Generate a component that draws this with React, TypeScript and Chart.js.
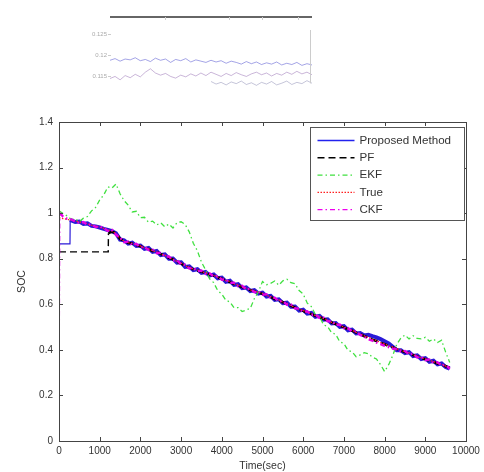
import React, { useEffect, useRef } from "react";
import { Chart, registerables } from "chart.js";
Chart.register(...registerables);

const FONT = "'Liberation Sans', Arial, Helvetica, sans-serif";

// ---------- main chart data ----------
const X_TICKS = [0, 1000, 2000, 3000, 4000, 5000, 6000, 7000, 8000, 9000, 10000];
const Y_TICKS = [0, 0.2, 0.4, 0.6, 0.8, 1.0, 1.2, 1.4];
const LEGEND_LABELS = ["Proposed Method", "PF", "EKF", "True", "CKF"];
const X_TITLE = "Time(sec)";
const Y_TITLE = "SOC";

const HEAD_T = [0, 100, 200];
const TIME = [
  300, 400, 500, 600, 700, 800, 900, 1000, 1100, 1200,
  1300, 1400, 1500, 1600, 1700, 1800, 1900, 2000, 2100, 2200,
  2300, 2400, 2500, 2600, 2700, 2800, 2900, 3000, 3100, 3200,
  3300, 3400, 3500, 3600, 3700, 3800, 3900, 4000, 4100, 4200,
  4300, 4400, 4500, 4600, 4700, 4800, 4900, 5000, 5100, 5200,
  5300, 5400, 5500, 5600, 5700, 5800, 5900, 6000, 6100, 6200,
  6300, 6400, 6500, 6600, 6700, 6800, 6900, 7000, 7100, 7200,
  7300, 7400, 7500, 7600, 7700, 7800, 7900, 8000, 8100, 8200,
  8300, 8400, 8500, 8600, 8700, 8800, 8900, 9000, 9100, 9200,
  9300, 9400, 9500, 9600,
];

const TRUE_HEAD_V = [0.98, 0.976, 0.973];
const TRUE_V = [
  0.969, 0.966, 0.961, 0.958, 0.953, 0.947, 0.944, 0.938, 0.933, 0.926,
  0.923, 0.909, 0.889, 0.877, 0.871, 0.867, 0.861, 0.856, 0.848, 0.844,
  0.835, 0.83, 0.821, 0.816, 0.805, 0.798, 0.788, 0.781, 0.769, 0.763,
  0.755, 0.751, 0.743, 0.739, 0.731, 0.728, 0.719, 0.714, 0.704, 0.7,
  0.69, 0.685, 0.676, 0.671, 0.663, 0.659, 0.652, 0.648, 0.639, 0.634,
  0.624, 0.619, 0.61, 0.604, 0.594, 0.587, 0.577, 0.573, 0.564, 0.559,
  0.55, 0.546, 0.537, 0.531, 0.521, 0.515, 0.506, 0.501, 0.491, 0.486,
  0.477, 0.471, 0.461, 0.456, 0.446, 0.441, 0.432, 0.427, 0.418, 0.413,
  0.404, 0.399, 0.391, 0.387, 0.378, 0.373, 0.365, 0.361, 0.353, 0.349,
  0.341, 0.337, 0.329, 0.323,
];

const PROPOSED_HEAD_T = [0, 270, 275];
const PROPOSED_HEAD_V = [0.865, 0.865, 0.97];
const PROPOSED_V = [
  0.968, 0.961, 0.963, 0.953, 0.955, 0.944, 0.942, 0.937, 0.931, 0.926,
  0.921, 0.912, 0.884, 0.881, 0.866, 0.87, 0.856, 0.858, 0.843, 0.847,
  0.83, 0.834, 0.816, 0.819, 0.8, 0.801, 0.783, 0.784, 0.764, 0.766,
  0.75, 0.754, 0.738, 0.742, 0.726, 0.731, 0.714, 0.717, 0.699, 0.703,
  0.685, 0.688, 0.671, 0.674, 0.658, 0.662, 0.647, 0.651, 0.634, 0.637,
  0.619, 0.622, 0.605, 0.607, 0.589, 0.59, 0.572, 0.576, 0.559, 0.562,
  0.545, 0.549, 0.532, 0.534, 0.516, 0.518, 0.501, 0.504, 0.486, 0.489,
  0.472, 0.474, 0.463, 0.466, 0.46, 0.455, 0.447, 0.438, 0.428, 0.414,
  0.398, 0.398, 0.386, 0.39, 0.373, 0.376, 0.36, 0.364, 0.348, 0.352,
  0.336, 0.34, 0.325, 0.318,
];

const CKF_HEAD_T = [0, 20, 100, 200];
const CKF_HEAD_V = [0, 1.0, 0.985, 0.975];
const CKF_V = [
  0.973, 0.963, 0.957, 0.961, 0.949, 0.95, 0.939, 0.942, 0.934, 0.922,
  0.927, 0.905, 0.893, 0.872, 0.875, 0.86, 0.865, 0.85, 0.852, 0.838,
  0.84, 0.824, 0.826, 0.81, 0.81, 0.792, 0.793, 0.775, 0.774, 0.757,
  0.76, 0.745, 0.748, 0.733, 0.736, 0.722, 0.724, 0.708, 0.709, 0.694,
  0.695, 0.679, 0.681, 0.665, 0.668, 0.653, 0.657, 0.642, 0.644, 0.628,
  0.629, 0.613, 0.615, 0.598, 0.599, 0.581, 0.582, 0.567, 0.569, 0.553,
  0.555, 0.54, 0.542, 0.525, 0.526, 0.509, 0.511, 0.495, 0.496, 0.48,
  0.482, 0.465, 0.458, 0.447, 0.44, 0.432, 0.425, 0.418, 0.412, 0.406,
  0.402, 0.393, 0.395, 0.381, 0.383, 0.367, 0.37, 0.355, 0.358, 0.343,
  0.346, 0.331, 0.334, 0.317,
];

const PF_HEAD_T = [0, 1210, 1215];
const PF_HEAD_V = [0.83, 0.83, 0.912];
const PF_V = [
  0.918, 0.913, 0.887, 0.879, 0.87, 0.866, 0.859, 0.855, 0.847, 0.842,
  0.834, 0.829, 0.82, 0.814, 0.804, 0.797, 0.787, 0.779, 0.768, 0.761,
  0.754, 0.749, 0.742, 0.737, 0.73, 0.726, 0.718, 0.712, 0.703, 0.698,
  0.689, 0.683, 0.675, 0.669, 0.662, 0.657, 0.651, 0.646, 0.638, 0.632,
  0.623, 0.617, 0.609, 0.602, 0.593, 0.585, 0.576, 0.571, 0.563, 0.557,
  0.549, 0.544, 0.536, 0.529, 0.52, 0.513, 0.505, 0.499, 0.49, 0.484,
  0.476, 0.469, 0.46, 0.454, 0.445, 0.439, 0.431, 0.425, 0.417, 0.411,
  0.403, 0.397, 0.39, 0.385, 0.377, 0.371, 0.364, 0.359, 0.352, 0.347,
  0.34, 0.335, 0.328, 0.321,
];

const EKF_V = [
  1.01, 0.998, 0.988,
  0.972, 0.975, 0.962, 0.978, 0.985, 1.01, 1.025, 1.058, 1.08, 1.115,
  1.11, 1.128, 1.085, 1.055, 1.035, 1.005, 1.008, 0.98, 0.982, 0.96,
  0.965, 0.948, 0.958, 0.94, 0.952, 0.935, 0.958, 0.962, 0.95, 0.918,
  0.868, 0.835, 0.785, 0.752, 0.712, 0.695, 0.66, 0.645, 0.618, 0.61,
  0.585, 0.585, 0.568, 0.575, 0.582, 0.625, 0.655, 0.7, 0.686, 0.692,
  0.702, 0.684, 0.703, 0.71, 0.695, 0.69, 0.66, 0.645, 0.605, 0.59,
  0.555, 0.548, 0.51, 0.502, 0.475, 0.468, 0.435, 0.428, 0.398, 0.392,
  0.37, 0.378, 0.388, 0.383, 0.368, 0.36, 0.335, 0.305, 0.335, 0.375,
  0.425, 0.452, 0.465, 0.448, 0.462, 0.45, 0.448, 0.455, 0.438, 0.448,
  0.432, 0.442, 0.39, 0.345,
];

// ---------- inset fragment data ----------
const INSET_TICKS = [0.115, 0.12, 0.125];
const INSET_X = [
  0, 2.5, 5, 7.5, 10, 12.5, 15, 17.5, 20, 22.5,
  25, 27.5, 30, 32.5, 35, 37.5, 40, 42.5, 45, 47.5,
  50, 52.5, 55, 57.5, 60, 62.5, 65, 67.5, 70, 72.5,
  75, 77.5, 80, 82.5, 85, 87.5, 90, 92.5, 95, 97.5, 100,
];
const INSET_A = [
  0.1188, 0.1192, 0.1186, 0.1191, 0.1189, 0.1194, 0.1187, 0.119, 0.1185, 0.1193,
  0.1188, 0.1191, 0.1183, 0.119, 0.1187, 0.1192, 0.1184, 0.1189, 0.1186, 0.1183,
  0.1188, 0.1184, 0.1187, 0.1181, 0.1186, 0.1183, 0.1179, 0.1185, 0.118, 0.1184,
  0.1178, 0.1182, 0.1179, 0.1184, 0.1177, 0.1181, 0.1178, 0.1183, 0.1176, 0.118, 0.1177,
];
const INSET_B = [
  0.1145, 0.115, 0.1142, 0.1152, 0.1147, 0.1155, 0.1149, 0.116, 0.1168, 0.1158,
  0.1153, 0.1157, 0.115, 0.1146, 0.1153, 0.1149, 0.1156, 0.1151, 0.1158, 0.1152,
  0.116, 0.1155, 0.115, 0.1157, 0.1152, 0.1159, 0.1154, 0.115, 0.1156, 0.116,
  0.1154, 0.1158, 0.1151, 0.1157, 0.1153, 0.116, 0.1155, 0.1162, 0.1156, 0.116, 0.1154,
];
const INSET_C = [
  0.1138, 0.1132, 0.1136, 0.113, 0.1137, 0.1133, 0.1139, 0.1131, 0.1135, 0.1129,
  0.1136, 0.1132, 0.1138, 0.113, 0.1134, 0.1139, 0.1131, 0.1136, 0.1133, 0.114, 0.1134,
];

const pts = (ts: number[], vs: number[]) => vs.map((v, i) => ({ x: ts[i], y: v }));

type Style = { color: string; width: number; dash: number[] };
const STYLES: Style[] = [
  { color: "#2a1ad8", width: 4, dash: [] },
  { color: "#000000", width: 2.5, dash: [7, 4] },
  { color: "#3fe03f", width: 1.3, dash: [5, 3, 1.5, 3] },
  { color: "#ff2020", width: 1.3, dash: [1.5, 1.5] },
  { color: "#e600e6", width: 2.4, dash: [5, 3, 1.5, 3] },
];
const LEGEND_WIDTHS = [1.3, 1.5, 1.2, 1.2, 1.3];
const LEGEND_COLORS = ["#2222ee", "#000000", "#3fe03f", "#ff2020", "#ee00ee"];

const mainDecor = {
  id: "mainDecor",
  afterDraw(chart: any) {
    const { ctx, chartArea: a, scales } = chart;
    const xs = scales.x;
    const ys = scales.y;
    ctx.save();
    ctx.strokeStyle = "#444";
    ctx.lineWidth = 1;
    ctx.strokeRect(Math.round(a.left) + 0.5, Math.round(a.top) + 0.5, Math.round(a.right - a.left), Math.round(a.bottom - a.top));
    ctx.beginPath();
    for (const v of X_TICKS) {
      const px = Math.round(xs.getPixelForValue(v)) + 0.5;
      ctx.moveTo(px, a.bottom);
      ctx.lineTo(px, a.bottom - 4);
      ctx.moveTo(px, a.top);
      ctx.lineTo(px, a.top + 4);
    }
    for (const v of Y_TICKS) {
      const py = Math.round(ys.getPixelForValue(v)) + 0.5;
      ctx.moveTo(a.left, py);
      ctx.lineTo(a.left + 4, py);
      ctx.moveTo(a.right, py);
      ctx.lineTo(a.right - 4, py);
    }
    ctx.stroke();

    // legend
    const bx = Math.round(a.right) - 155.5;
    const by = Math.round(a.top) + 5.5;
    const bw = 154;
    const bh = 93;
    ctx.fillStyle = "#ffffff";
    ctx.fillRect(bx, by, bw, bh);
    ctx.strokeStyle = "#555";
    ctx.lineWidth = 1;
    ctx.strokeRect(bx, by, bw, bh);
    ctx.font = `11.6px ${FONT}`;
    ctx.textBaseline = "middle";
    ctx.textAlign = "left";
    LEGEND_LABELS.forEach((lab, i) => {
      const st = STYLES[i];
      const y = by + 13 + i * 17.3;
      ctx.beginPath();
      ctx.strokeStyle = LEGEND_COLORS[i];
      ctx.lineWidth = LEGEND_WIDTHS[i];
      ctx.setLineDash(st.dash);
      ctx.moveTo(bx + 7, y);
      ctx.lineTo(bx + 44, y);
      ctx.stroke();
      ctx.setLineDash([]);
      ctx.fillStyle = "#333";
      ctx.fillText(lab, bx + 49, y);
    });

    // axis titles
    ctx.fillStyle = "#333";
    ctx.font = `10.5px ${FONT}`;
    ctx.textAlign = "center";
    ctx.textBaseline = "middle";
    ctx.fillText(X_TITLE, (a.left + a.right) / 2, a.bottom + 25);
    ctx.save();
    ctx.translate(22, (a.top + a.bottom) / 2);
    ctx.rotate(-Math.PI / 2);
    ctx.fillText(Y_TITLE, 0, 0);
    ctx.restore();
    ctx.restore();
  },
};

const insetDecor = {
  id: "insetDecor",
  afterDraw(chart: any) {
    const { ctx, chartArea: a, scales } = chart;
    ctx.save();
    ctx.strokeStyle = "#666";
    ctx.lineWidth = 2;
    ctx.beginPath();
    ctx.moveTo(a.left, a.top);
    ctx.lineTo(a.right, a.top);
    ctx.stroke();
    ctx.strokeStyle = "#ccc";
    ctx.lineWidth = 1;
    ctx.beginPath();
    for (const xv of [27, 59, 75, 93]) {
      const px = Math.round(scales.x.getPixelForValue(xv)) + 0.5;
      ctx.moveTo(px, a.top);
      ctx.lineTo(px, a.top + 3);
    }
    const rx = Math.round(a.right) - 1.5;
    ctx.moveTo(rx, a.top + 13);
    ctx.lineTo(rx, a.bottom - 10);
    for (const v of INSET_TICKS) {
      const py = Math.round(scales.y.getPixelForValue(v)) + 0.5;
      ctx.moveTo(a.left - 2, py);
      ctx.lineTo(a.left + 1, py);
    }
    ctx.stroke();
    ctx.restore();
  },
};

export default function App() {
  const mainRef = useRef<HTMLCanvasElement | null>(null);
  const insetRef = useRef<HTMLCanvasElement | null>(null);

  useEffect(() => {
    const line = (label: string, data: any[], st: Style) => ({
      label,
      data,
      borderColor: st.color,
      backgroundColor: st.color,
      borderWidth: st.width,
      borderDash: st.dash,
      pointRadius: 0,
      tension: 0,
      fill: false,
    });
    // first dataset is drawn on top in Chart.js, so list in reverse of plot order
    const datasets: any[] = [
      line(LEGEND_LABELS[4], pts([...CKF_HEAD_T, ...TIME], [...CKF_HEAD_V, ...CKF_V]), STYLES[4]),
      line(LEGEND_LABELS[3], pts([...HEAD_T, ...TIME], [...TRUE_HEAD_V, ...TRUE_V]), STYLES[3]),
      line(LEGEND_LABELS[2], pts([...HEAD_T, ...TIME], EKF_V), STYLES[2]),
      line(LEGEND_LABELS[1], pts([...PF_HEAD_T, ...TIME.slice(10)], [...PF_HEAD_V, ...PF_V]), STYLES[1]),
      line(LEGEND_LABELS[0], pts([...PROPOSED_HEAD_T, ...TIME], [...PROPOSED_HEAD_V, ...PROPOSED_V]), STYLES[0]),
    ];
    // thinner initial segments (start-up transients)
    datasets[4].segment = { borderWidth: (c: any) => (c.p0DataIndex < 2 ? 1.2 : 4) };
    datasets[3].segment = { borderWidth: (c: any) => (c.p0DataIndex < 2 ? 1.4 : 2.5) };
    datasets[0].segment = { borderWidth: (c: any) => (c.p0DataIndex < 1 ? 1.2 : 2.4) };

    const main = new Chart(mainRef.current as HTMLCanvasElement, {
      type: "line",
      data: { datasets },
      options: {
        responsive: false,
        animation: false,
        events: [],
        layout: { padding: { top: 22, right: 18, left: 0, bottom: 0 } },
        plugins: { legend: { display: false }, tooltip: { enabled: false } },
        scales: {
          x: {
            type: "linear",
            min: 0,
            max: 10000,
            grid: { display: false, drawTicks: false },
            border: { display: false },
            afterBuildTicks: (s: any) => { s.ticks = X_TICKS.map((v) => ({ value: v })); },
            afterFit: (s: any) => { s.height = 31; },
            ticks: {
              autoSkip: false,
              maxRotation: 0,
              padding: 4,
              color: "#333",
              font: { family: FONT, size: 10 },
              callback: (v: any) => String(v),
            },
          },
          y: {
            type: "linear",
            min: 0,
            max: 1.4,
            grid: { display: false, drawTicks: false },
            border: { display: false },
            afterBuildTicks: (s: any) => { s.ticks = Y_TICKS.map((v) => ({ value: v })); },
            afterFit: (s: any) => { s.width = 59; },
            ticks: {
              autoSkip: false,
              padding: 6,
              color: "#333",
              font: { family: FONT, size: 10 },
              callback: (v: any) => String(Math.round(Number(v) * 10) / 10),
            },
          },
        },
      },
      plugins: [mainDecor],
    } as any);

    const inset = new Chart(insetRef.current as HTMLCanvasElement, {
      type: "line",
      data: {
        datasets: [
          {
            data: pts(INSET_X, INSET_A),
            borderColor: "rgba(90,90,210,0.55)",
            borderWidth: 1,
            pointRadius: 0,
            tension: 0,
          },
          {
            data: pts(INSET_X, INSET_B),
            borderColor: "rgba(150,110,180,0.5)",
            borderWidth: 1,
            pointRadius: 0,
            tension: 0,
          },
          {
            data: pts(INSET_X.slice(20), INSET_C),
            borderColor: "rgba(110,110,160,0.4)",
            borderWidth: 1,
            pointRadius: 0,
            tension: 0,
          },
        ],
      },
      options: {
        responsive: false,
        animation: false,
        events: [],
        layout: { padding: { top: 17, right: 8, left: 0, bottom: 0 } },
        plugins: { legend: { display: false }, tooltip: { enabled: false } },
        scales: {
          x: { type: "linear", min: 0, max: 100, display: false },
          y: {
            type: "linear",
            min: 0.111,
            max: 0.129,
            grid: { display: false, drawTicks: false },
            border: { display: false },
            afterBuildTicks: (s: any) => { s.ticks = INSET_TICKS.map((v) => ({ value: v })); },
            afterFit: (s: any) => { s.width = 30; },
            ticks: {
              padding: 3,
              color: "#aaa",
              font: { family: FONT, size: 6 },
              callback: (v: any) => String(Math.round(Number(v) * 1000) / 1000),
            },
          },
        },
      },
      plugins: [insetDecor],
    } as any);

    return () => {
      main.destroy();
      inset.destroy();
    };
  }, []);

  return (
    <div style={{ position: "absolute", left: 0, top: 0, width: 484, height: 472, background: "#fff" }}>
      <canvas
        ref={insetRef}
        width={240}
        height={100}
        style={{ position: "absolute", left: 80, top: 0, width: 240, height: 100 }}
      />
      <canvas
        ref={mainRef}
        width={484}
        height={372}
        style={{ position: "absolute", left: 0, top: 100, width: 484, height: 372 }}
      />
    </div>
  );
}
